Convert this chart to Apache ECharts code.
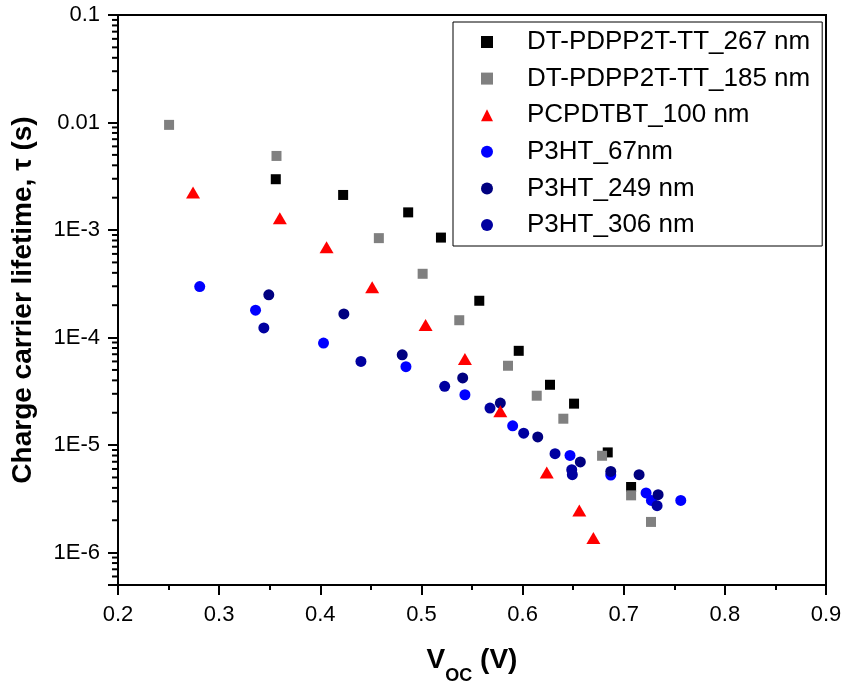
<!DOCTYPE html>
<html>
<head>
<meta charset="utf-8">
<script src="https://cdn.jsdelivr.net/npm/echarts@6/dist/echarts.min.js"></script>
<style>
  html, body { margin: 0; background: #fff; }
  #chart { width: 843px; height: 684px; }
</style>
</head>
<body>
<div id="chart"></div>
<script>
// Voc (V), lifetime (s)
const dt267 = [
  [0.356, 2.97e-3], [0.4226, 2.12e-3], [0.4869, 1.46e-3], [0.5193, 8.51e-4],
  [0.5572, 2.2e-4], [0.5962, 7.53e-5], [0.6271, 3.64e-5], [0.6509, 2.43e-5],
  [0.6842, 8.55e-6], [0.7073, 4.08e-6]
];
const dt185 = [
  [0.2505, 9.51e-3], [0.3567, 4.89e-3], [0.4579, 8.41e-4], [0.5012, 3.92e-4],
  [0.5374, 1.45e-4], [0.5856, 5.47e-5], [0.614, 2.88e-5], [0.6403, 1.76e-5],
  [0.6786, 7.96e-6], [0.7073, 3.41e-6], [0.727, 1.93e-6]
];
const pcpdtbt100 = [
  [0.2742, 2.23e-3], [0.36, 1.29e-3], [0.4062, 6.93e-4], [0.4513, 2.94e-4],
  [0.5041, 1.31e-4], [0.543, 6.31e-5], [0.578, 2.06e-5], [0.6239, 5.57e-6],
  [0.6561, 2.47e-6], [0.67, 1.37e-6]
];
const p3ht67 = [
  [0.2808, 2.98e-4], [0.336, 1.8e-4], [0.4032, 8.89e-5], [0.4847, 5.36e-5],
  [0.543, 2.94e-5], [0.5902, 1.51e-5], [0.6469, 8.02e-6], [0.6872, 5.27e-6],
  [0.7221, 3.59e-6], [0.7274, 3.06e-6], [0.7564, 3.06e-6]
];
const p3ht249 = [
  [0.3491, 2.5e-4], [0.4233, 1.66e-4], [0.481, 6.92e-5], [0.5408, 4.21e-5],
  [0.578, 2.46e-5], [0.615, 1.19e-5], [0.6571, 6.97e-6], [0.6872, 5.69e-6],
  [0.7152, 5.31e-6], [0.734, 3.46e-6]
];
const p3ht306 = [
  [0.3442, 1.23e-4], [0.4402, 6.0e-5], [0.523, 3.52e-5], [0.5678, 2.21e-5],
  [0.6011, 1.29e-5], [0.6321, 8.32e-6], [0.6486, 5.9e-6], [0.6492, 5.31e-6],
  [0.733, 2.73e-6]
];

const seriesNames = [
  'DT-PDPP2T-TT_267 nm', 'DT-PDPP2T-TT_185 nm', 'PCPDTBT_100 nm',
  'P3HT_67nm', 'P3HT_249 nm', 'P3HT_306 nm'
];

const xMin = 0.2, xMax = 0.9, xStep = 0.1;
const yMin = 5e-7, yMax = 0.1;

// log minor ticks (2..9 of each decade)
const yMinorTicks = [];
for (let e = -7; e <= -2; e++) {
  for (let m = 2; m <= 9; m++) {
    const v = +(m * Math.pow(10, e)).toPrecision(3);
    if (v >= yMin && v < yMax) yMinorTicks.push(v);
  }
}

const font = 'Liberation Sans, Arial, sans-serif';

function yLabel(v) {
  const e = Math.round(Math.log10(v));
  if (Math.abs(Math.log10(v) - e) > 1e-6) return '';
  if (e >= -2) return String(+Math.pow(10, e).toPrecision(1));
  return '1E' + e;
}

const myChart = echarts.init(document.getElementById('chart'));

const option = {
  animation: false,
  textStyle: { fontFamily: font },
  grid: {
    left: 118, right: 17, top: 15, bottom: 99,
    show: true, borderColor: '#000', borderWidth: 2,
    outerBoundsMode: 'none'
  },
  legend: {
    orient: 'vertical',
    left: 453,
    top: 22,
    padding: [7, 12, 8, 28],
    itemGap: 10.6,
    itemWidth: 12,
    itemHeight: 12,
    borderColor: '#000',
    borderWidth: 1,
    data: seriesNames,
    formatter: name => '{t|' + name + '}',
    textStyle: {
      fontFamily: font,
      fontSize: 26,
      color: '#000',
      rich: { t: { fontFamily: font, fontSize: 26, lineHeight: 26, padding: [0, 0, 0, 29] } }
    }
  },
  xAxis: {
    type: 'value',
    min: xMin,
    max: xMax,
    interval: xStep,
    name: '{v|V}{s|OC}{v| (V)}',
    nameLocation: 'middle',
    nameGap: 61,
    nameTextStyle: {
      rich: {
        v: { fontFamily: font, fontSize: 28, fontWeight: 'bold', lineHeight: 28, verticalAlign: 'top', color: '#000' },
        s: { fontFamily: font, fontSize: 18, fontWeight: 'bold', lineHeight: 18, verticalAlign: 'top', padding: [21, 0, 0, 0], color: '#000' }
      }
    },
    axisLine: { show: true, lineStyle: { color: '#000', width: 2 } },
    axisTick: { show: true, inside: false, length: 10, lineStyle: { color: '#000', width: 2 } },
    minorTick: { show: true, splitNumber: 2, length: 5, lineStyle: { color: '#000', width: 2 } },
    axisLabel: { fontSize: 22, color: '#000', margin: 19, fontFamily: font },
    splitLine: { show: false }
  },
  yAxis: {
    type: 'log',
    min: yMin,
    max: yMax,
    name: 'Charge carrier lifetime, τ (s)',
    nameLocation: 'middle',
    nameGap: 81,
    nameTextStyle: { fontFamily: font, fontSize: 28, fontWeight: 'bold', color: '#000' },
    axisLine: { show: true, lineStyle: { color: '#000', width: 2 } },
    axisTick: { show: true, inside: false, length: 10, lineStyle: { color: '#000', width: 2 } },
    axisLabel: { fontSize: 22, color: '#000', margin: 18, fontFamily: font, formatter: yLabel },
    splitLine: { show: false }
  },
  series: [
    {
      // minor ticks of the log axis, drawn on the left axis line
      type: 'custom',
      silent: true,
      clip: false,
      data: yMinorTicks.map(v => [xMin, v]),
      encode: { x: 0, y: 1 },
      renderItem(params, api) {
        const p = api.coord([api.value(0), api.value(1)]);
        return {
          type: 'line',
          shape: { x1: p[0] - 6, y1: p[1], x2: p[0], y2: p[1] },
          style: { stroke: '#000', lineWidth: 2 }
        };
      },
      z: 10
    },
    { name: seriesNames[0], type: 'scatter', symbol: 'rect', symbolSize: 10, itemStyle: { color: '#000000', opacity: 1 }, data: dt267, z: 2 },
    { name: seriesNames[1], type: 'scatter', symbol: 'rect', symbolSize: 10, itemStyle: { color: '#808080', opacity: 1 }, data: dt185, z: 3 },
    { name: seriesNames[2], type: 'scatter', symbol: 'triangle', symbolSize: [14, 12], itemStyle: { color: '#ff0000', opacity: 1 }, data: pcpdtbt100, z: 7 },
    { name: seriesNames[3], type: 'scatter', symbol: 'circle', symbolSize: 11, itemStyle: { color: '#0000ff', opacity: 1 }, data: p3ht67, z: 4 },
    { name: seriesNames[4], type: 'scatter', symbol: 'circle', symbolSize: 11, itemStyle: { color: '#000080', opacity: 1 }, data: p3ht249, z: 5 },
    { name: seriesNames[5], type: 'scatter', symbol: 'circle', symbolSize: 11, itemStyle: { color: '#0000a0', opacity: 1 }, data: p3ht306, z: 6 }
  ]
};

myChart.setOption(option);
</script>
</body>
</html>
